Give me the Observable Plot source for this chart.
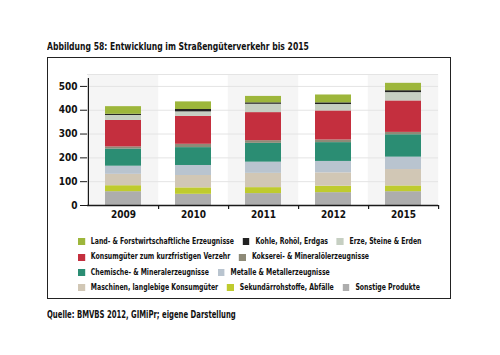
<!DOCTYPE html>
<html>
<head>
<meta charset="utf-8">
<script src="https://cdn.jsdelivr.net/npm/d3@7"></script>
<script src="https://cdn.jsdelivr.net/npm/@observablehq/plot@0.6"></script>
<style>
  html, body { margin: 0; padding: 0; background: #fff; }
  #wrap { position: relative; width: 500px; height: 355px; overflow: hidden;
          font-family: "DejaVu Sans Condensed", "Liberation Sans Narrow", "Liberation Sans", Arial, sans-serif; color: #111; }
  #title { position: absolute; left: 47px; top: 40px; font-size: 10.5px; font-weight: bold; white-space: nowrap; transform: scaleX(0.81); transform-origin: 0 0; }
  #frame { position: absolute; left: 47px; top: 57px; width: 404px; height: 242px; border: 1.5px solid #222; box-sizing: border-box; }
  #chart { position: absolute; left: 0; top: 60px; }
  #legend { position: absolute; left: 78px; top: 234px; font-size: 8.6px; font-weight: bold; line-height: 15.4px; transform: scaleX(0.8); transform-origin: 0 0; }
  .row { display: flex; white-space: nowrap; }
  .item { display: flex; align-items: center; margin-right: 11px; }
  .sw { width: 8.5px; height: 7px; margin-right: 7.5px; flex: none; }
  #caption { position: absolute; left: 47px; top: 309px; font-size: 9.8px; font-weight: bold; white-space: nowrap; transform: scaleX(0.78); transform-origin: 0 0; }
</style>
</head>
<body>
<div id="wrap">
  <div id="title"></div>
  <div id="frame"></div>
  <div id="chart"></div>
  <div id="legend"></div>
  <div id="caption"></div>
</div>
<script>
const titleText = "Abbildung 58: Entwicklung im Straßengüterverkehr bis 2015";
const captionText = "Quelle: BMVBS 2012, GIMiPr; eigene Darstellung";

const years = ["2009", "2010", "2011", "2012", "2015"];

// stack order, bottom to top
const categories = [
  "Sonstige Produkte",
  "Sekundärrohstoffe, Abfälle",
  "Maschinen, langlebige Konsumgüter",
  "Metalle & Metallerzeugnisse",
  "Chemische- & Mineralerzeugnisse",
  "Kokserei- & Mineralölerzeugnisse",
  "Konsumgüter zum kurzfristigen Verzehr",
  "Erze, Steine & Erden",
  "Kohle, Rohöl, Erdgas",
  "Land- & Forstwirtschaftliche Erzeugnisse"
];
const colors = ["#adadad", "#bfcb2e", "#d1c7b5", "#b9c4cf", "#2b8d73", "#8e8a77", "#c42f3e", "#c6cfc2", "#222222", "#9db63b"];

const sonstige   = [58, 47, 50, 54, 58];
const sekundaer  = [25, 27, 25, 27, 24];
const maschinen  = [48, 52, 60, 56, 69];
const metalle    = [34, 42, 47, 48, 52];
const chemische  = [72, 75, 79, 79, 94];
const kokserei   = [9, 14, 11, 11, 10];
const konsum     = [111, 117, 118, 122, 132];
const erze       = [21, 19, 35, 27, 35];
const kohle      = [5, 10, 6, 7, 8];
const land       = [32, 32, 27, 33, 31];

const series = [sonstige, sekundaer, maschinen, metalle, chemische, kokserei, konsum, erze, kohle, land];

const yTicks = [0, 100, 200, 300, 400, 500];
const gridLines = [100, 200, 300, 400, 500, 550];
const shadedYears = ["2009", "2011", "2015"];

// legend layout: items per row (top to bottom), in legend order
const legendOrder = categories.slice().reverse();
const legendRows = [3, 2, 2, 3];

const table = [];
categories.forEach((c, i) => years.forEach((y, j) => table.push({year: y, cat: c, value: series[i][j]})));

const W = 500, H = 165, mL = 87, mR = 62, mT = 14, mB = 20;
const step = (W - mL - mR) / years.length;
const pad = 0.49;
const gapHalf = step * pad / 2;

const chart = Plot.plot({
  width: W, height: H,
  marginLeft: mL, marginRight: mR, marginTop: mT, marginBottom: mB,
  style: {fontFamily: "'DejaVu Sans Condensed', 'Liberation Sans Narrow', Arial, sans-serif", fontSize: "10px", fontWeight: "bold", color: "#111", background: "transparent"},
  x: {domain: years, paddingInner: pad, paddingOuter: pad / 2, axis: null},
  y: {domain: [0, 550], axis: null},
  color: {domain: categories, range: colors},
  marks: [
    Plot.barY(shadedYears, {x: d => d, y1: 0, y2: 550, fill: "#f5f5f5", insetLeft: -gapHalf, insetRight: -gapHalf}),
    Plot.ruleY(gridLines, {stroke: "#e4e4e4", strokeWidth: 1}),
    Plot.barY(table, {x: "year", y: "value", fill: "cat", order: categories}),
    Plot.ruleY([0], {stroke: "#1a1a1a", strokeWidth: 1.5}),
    Plot.ruleX([years[0]], {x: d => d, dx: -step / 2, y1: 0, y2: 550, stroke: "#1a1a1a", strokeWidth: 1.2, insetBottom: -4}),
    Plot.ruleX(years, {x: d => d, dx: step / 2, y1: 0, y2: 0, stroke: "#1a1a1a", strokeWidth: 1.2, insetBottom: -4}),
    Plot.axisY(yTicks, {label: null, tickSize: 7, tickPadding: 3, fontSize: 10, fontWeight: "bold", stroke: "#1a1a1a"}),
    Plot.axisX({label: null, tickSize: 0, tickPadding: 5, fontSize: 10, fontWeight: "bold"})
  ]
});
document.getElementById("chart").appendChild(chart);
document.getElementById("title").textContent = titleText;
document.getElementById("caption").textContent = captionText;

const legend = document.getElementById("legend");
let k = 0;
legendRows.forEach(n => {
  const row = document.createElement("div");
  row.className = "row";
  for (let i = 0; i < n; i++, k++) {
    const name = legendOrder[k];
    const item = document.createElement("div");
    item.className = "item";
    const sw = document.createElement("div");
    sw.className = "sw";
    sw.style.background = colors[categories.indexOf(name)];
    const t = document.createElement("span");
    t.textContent = name;
    item.appendChild(sw);
    item.appendChild(t);
    row.appendChild(item);
  }
  legend.appendChild(row);
});
</script>
</body>
</html>
